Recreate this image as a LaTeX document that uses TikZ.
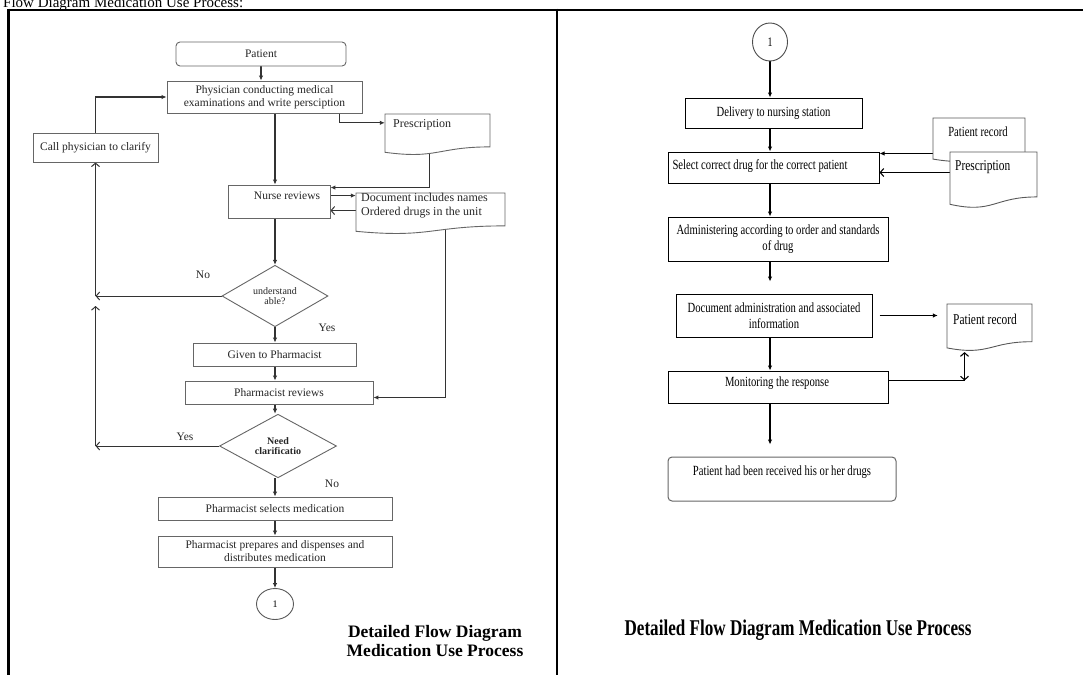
\documentclass[tikz,border=0pt]{standalone}
\usepackage{fontspec}
\setmainfont{Liberation Serif}
\newfontfamily\narrowserif[FakeStretch=0.76]{Liberation Serif}
\usetikzlibrary{arrows.meta,shapes.geometric,calc,fit}
\pgfdeclarelayer{bg}
\pgfsetlayers{bg,main}

% document symbol: rectangle with a wavy lower edge; #2 name, (#3,#4)-(#5,#6) extent
\newcommand{\DocShape}[6][docline]{%
  \pgfmathsetmacro{\dsh}{#6-#4}%
  \pgfmathsetmacro{\dsr}{#4+0.802*\dsh}%
  \pgfmathsetmacro{\dsl}{#4+0.934*\dsh}%
  \pgfmathsetmacro{\dsc}{#4+1.107*\dsh}%
  \pgfmathsetmacro{\dsm}{(#3+#5)/2}%
  \draw[#1] (#3,#4) -- (#5,#4) -- (#5,\dsr) .. controls (\dsm,\dsr) and (\dsm,\dsc) .. (#3,\dsl) -- cycle;
  \node[inner sep=0pt, fit={(#3,#4) (#5,\dsl)}] (#2) {};
}

\begin{document}
\begin{tikzpicture}[x=1pt,y=-1pt,
  lbox/.style={draw=black!60, line width=0.9pt, fill=white, text=black!85,
    font=\fontsize{11.5}{13}\selectfont, align=center, inner sep=0pt},
  ldia/.style={diamond, draw=black!60, line width=0.9pt, fill=white, text=black!85,
    align=center, inner sep=0pt},
  rbox/.style={draw=black, line width=1pt, fill=white, text=black,
    font=\narrowserif\fontsize{14}{15.5}\selectfont, align=center, inner sep=0pt},
  ltext/.style={text=black!85, font=\fontsize{12}{14}\selectfont, inner sep=0pt, align=left},
  rtext/.style={text=black, font=\narrowserif\fontsize{14}{15.5}\selectfont, inner sep=0pt, align=center},
  docline/.style={draw=black!60, line width=0.9pt, fill=white},
  rdocline/.style={draw=black!65, line width=0.9pt, fill=white},
  arr/.style={-{Latex[length=5pt,width=4.5pt]}, line width=1.1pt, draw=black!80},
  rarr/.style={-{Latex[length=5pt,width=4.5pt]}, line width=1.1pt, draw=black},
  openarr/.style={-{Straight Barb[length=3.5pt,width=8pt]}, line width=1pt, draw=black!80},
  ropenarr/.style={-{Straight Barb[length=3.5pt,width=8pt]}, line width=1.1pt, draw=black},
  ropenboth/.style={{Straight Barb[length=3.5pt,width=8pt]}-{Straight Barb[length=3.5pt,width=8pt]}, line width=1.1pt, draw=black},
  lbl/.style={text=black!85, font=\fontsize{11.5}{13}\selectfont, inner sep=0pt}
]
\useasboundingbox (0,0) rectangle (1083,675);

% ---------- heading and table frame ----------
\node[anchor=base west, font=\fontsize{15}{16}\selectfont, inner sep=0pt] (heading) at (3,7)
  {Flow Diagram Medication Use Process:};
\draw[line width=2.6pt] (7.2,10) -- (1083,10);
\draw[line width=2.6pt] (8.5,8.7) -- (8.5,675);
\draw[line width=2.6pt] (557,8.7) -- (557,675);

% ---------- left flow ----------
\node[lbox, rounded corners=4pt, minimum width=170, minimum height=24] (patient) at (261,54) {Patient};
\node[lbox, minimum width=195, minimum height=32] (phys) at (264.5,97)
  {Physician conducting medical\\examinations and write persciption};
\node[lbox, minimum width=125, minimum height=29] (callphys) at (95.5,147.5) {Call physician to clarify};
\DocShape{presc}{385}{114}{490}{155}
\node[ltext, anchor=west] (presctxt) at (393,125) {Prescription};
\node[lbox, minimum width=102, minimum height=33] (nurse) at (279,201.5) {};
\node[lbl] (nursetxt) at (287,196) {Nurse reviews};
\DocShape{docnames}{356}{193}{505}{234}
\node[ltext, anchor=north west] (docnamestxt) at (361,192.5)
  {Document includes names\\Ordered drugs in the unit};
\node[ldia, minimum width=106, minimum height=46, font=\fontsize{10}{10.5}\selectfont] (dia1) at (275,296)
  {understand\\able?};
\node[lbox, minimum width=163, minimum height=23] (given) at (274.5,354.5) {Given to Pharmacist};
\node[lbox, minimum width=188, minimum height=23] (pharmrev) at (279,392.5) {Pharmacist reviews};
\node[ldia, minimum width=117, minimum height=53, font=\bfseries\fontsize{10}{10.5}\selectfont] (dia2) at (278,446)
  {Need\\clarificatio};
\node[lbox, minimum width=234, minimum height=23] (selects) at (275,508.5) {Pharmacist selects medication};
\node[lbox, minimum width=234, minimum height=31] (prepares) at (275,551.5)
  {Pharmacist prepares and dispenses and\\distributes medication};
\node[ellipse, draw=black!65, line width=0.9pt, fill=white, minimum width=37, minimum height=31,
  inner sep=0pt, font=\fontsize{10}{11}\selectfont] (circ1) at (275,604) {1};

\node[lbl] (noA) at (203,275) {No};
\node[lbl] (yesA) at (327,328) {Yes};
\node[lbl] (yesB) at (185,437) {Yes};
\node[lbl] (noB) at (332,484) {No};

\node[font=\bfseries\fontsize{17.5}{18.5}\selectfont, align=center, inner sep=0pt] (capL) at (435,641)
  {Detailed Flow Diagram\\Medication Use Process};

% ---------- right flow ----------
\node[ellipse, draw=black!70, line width=0.9pt, fill=white, minimum width=35, minimum height=38,
  inner sep=0pt, font=\narrowserif\fontsize{13}{14}\selectfont] (circ2) at (770,42) {1};
\node[rbox, minimum width=177, minimum height=30] (delivery) at (773.5,113) {Delivery to nursing station};
\node[rbox, minimum width=211, minimum height=31] (select) at (773.5,167.5) {};
\node[rtext] (selecttxt) at (760,166) {Select correct drug for the correct patient};
\DocShape[rdocline]{precord1}{933}{118}{1025}{162}
\node[rtext] (precord1txt) at (978,132) {Patient record};
\DocShape[rdocline]{presc2}{950}{152}{1037}{208}
\node[rtext, anchor=west, font=\narrowserif\fontsize{15}{16}\selectfont] (presc2txt) at (955,167) {Prescription};
\node[rbox, minimum width=220, minimum height=44] (admin) at (778,239)
  {Administering according to order and standards\\of drug};
\node[rbox, minimum width=196, minimum height=43] (docadmin) at (774,315.5)
  {Document administration and associated\\information};
\DocShape[rdocline]{precord2}{947}{304}{1032}{351}
\node[rtext, anchor=west, font=\narrowserif\fontsize{15}{16}\selectfont] (precord2txt) at (953,319) {Patient record};
\node[rbox, minimum width=220, minimum height=32] (monitor) at (778,387) {};
\node[rtext] (monitortxt) at (777,383) {Monitoring the response};
\node[rbox, draw=black!60, rounded corners=4pt, minimum width=228, minimum height=44] (final) at (782,479) {};
\node[rtext] (finaltxt) at (782,472) {Patient had been received his or her drugs};

\node[font=\narrowserif\bfseries\fontsize{22.5}{24}\selectfont, inner sep=0pt] (capR) at (798,630)
  {Detailed Flow Diagram Medication Use Process};

% ---------- connectors ----------
\begin{pgfonlayer}{bg}
  % left side
  \draw[arr] (patient.south) -- (patient.south |- phys.north);
  \draw[arr] ($(phys.south east)+(-23,0)$) |- ($(presc.north west)+(0,9)$);
  \draw[arr] (dia1.north |- phys.south) -- (dia1.north |- nurse.north);
  \draw[arr] ($(presc.south west)+(45,-6)$) |- ($(nurse.north east)+(0,3)$);
  \coordinate (nA) at ($(nurse.north east)+(0,11)$);
  \coordinate (nB) at ($(nurse.north east)+(0,26)$);
  \draw[arr] (nA) -- (nA -| docnames.west);
  \draw[openarr] (nB -| docnames.west) -- (nB);
  \draw[arr] (dia1.north |- nurse.south) -- (dia1.north);
  \coordinate (loopNo) at (dia1.west -| callphys.south);
  \coordinate (loopYes) at (dia2.west -| callphys.south);
  \draw[openarr] (dia1.west) -- (loopNo);
  \draw[openarr] (loopNo) -- (callphys.south);
  \draw[openarr] (dia2.west) -- (loopYes);
  \draw[openarr] (loopYes) -- ($(loopNo)+(0,10)$);
  \draw[arr] (callphys.north) |- (phys.west);
  \draw[arr] (dia1.south) -- (dia1.south |- given.north);
  \draw[arr] (dia1.south |- given.south) -- (dia1.south |- pharmrev.north);
  \draw[arr] ($(docnames.south west)+(90,-6)$) |- ($(pharmrev.east)+(0,5)$);
  \draw[arr] (dia1.south |- pharmrev.south) -- (dia1.south |- dia2.north);
  \draw[arr] (dia1.south |- dia2.south) -- (dia1.south |- selects.north);
  \draw[arr] (dia1.south |- selects.south) -- (dia1.south |- prepares.north);
  \draw[arr] (dia1.south |- prepares.south) -- (circ1.north);
  % right side
  \draw[rarr] (circ2.south) -- (circ2.south |- delivery.north);
  \draw[rarr] (circ2.south |- delivery.south) -- (circ2.south |- select.north);
  \coordinate (rA) at ($(select.north east)+(0,2)$);
  \coordinate (rB) at ($(select.north east)+(0,21)$);
  \draw[rarr] (rA -| precord1.west) -- (rA);
  \draw[ropenarr] (rB -| presc2.west) -- (rB);
  \draw[rarr] (circ2.south |- select.south) -- (circ2.south |- admin.north);
  \draw[rarr] (circ2.south |- admin.south) -- ($(circ2.south |- docadmin.north)+(0,-12)$);
  \draw[rarr] ($(docadmin.east)+(7,0)$) -- ($(docadmin.east -| precord2.west)+(-9,0)$);
  \draw[rarr] (circ2.south |- docadmin.south) -- (circ2.south |- monitor.north);
  \coordinate (mC) at ($(monitor.north east)+(76,10)$);
  \draw[line width=1.1pt] (monitor.east |- mC) -- (mC);
  \draw[ropenboth] (mC) -- ($(mC |- precord2.south)+(0,4)$);
  \draw[rarr] (circ2.south |- monitor.south) -- ($(circ2.south |- final.north)+(0,-12)$);
\end{pgfonlayer}
\end{tikzpicture}
\end{document}
